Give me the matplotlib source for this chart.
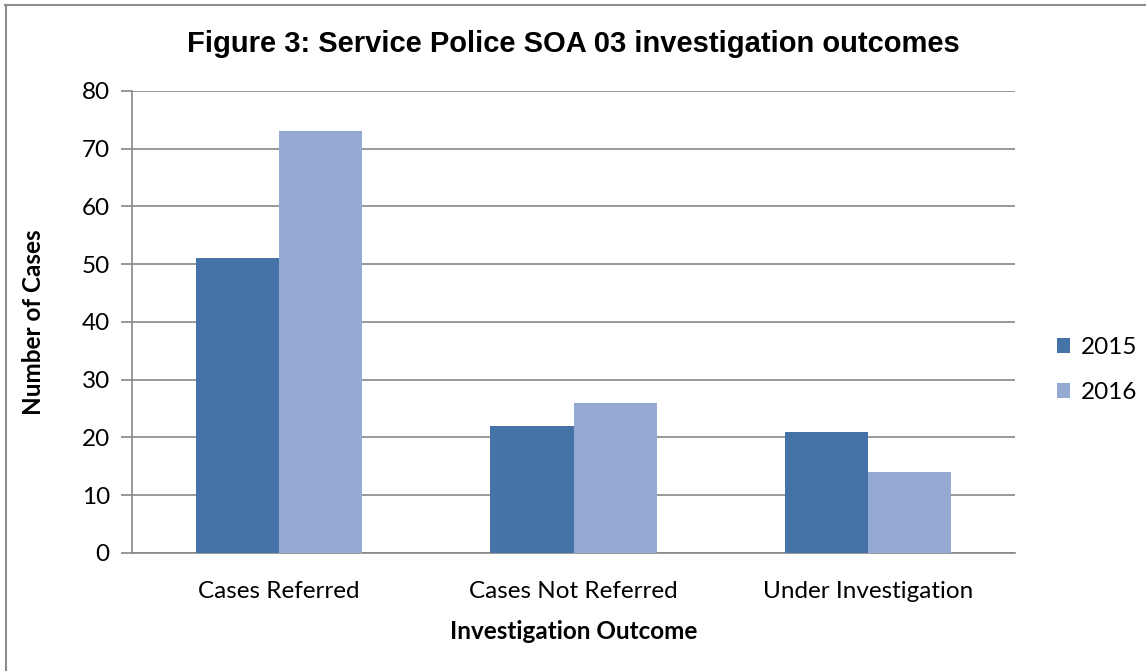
import numpy as np
import matplotlib
matplotlib.use("Agg")
import matplotlib.pyplot as plt
from matplotlib.lines import Line2D

categories = ["Cases Referred", "Cases Not Referred", "Under Investigation"]
years = ["2015", "2016"]
values_2015 = [51, 22, 21]
values_2016 = [73, 26, 14]

col_2015 = "#4572A7"
col_2016 = "#95AAD2"
grid_col = "#878787"
body_font = ["Lato", "DejaVu Sans"]
fs = 17.5

fig = plt.figure(figsize=(11.46, 6.71), dpi=100)
ax = fig.add_axes([0.1152, 0.1759, 0.7705, 0.6885])

x = np.arange(len(categories))
w = 0.283
ax.bar(x - w / 2, values_2015, w, color=col_2015, label=years[0], zorder=3)
ax.bar(x + w / 2, values_2016, w, color=col_2016, label=years[1], zorder=3)

ax.set_xlim(-0.5, 2.5)
ax.set_ylim(0, 80)
ax.set_yticks(np.arange(0, 81, 10))
ax.set_xticks(x)
ax.set_xticklabels(categories, fontsize=fs, family=body_font)
for lab in ax.get_yticklabels():
    lab.set_fontsize(fs)
    lab.set_family(body_font)

ax.yaxis.grid(True, color=grid_col, linewidth=1.2, zorder=0)
for s in ["top", "right"]:
    ax.spines[s].set_visible(False)
ax.spines["left"].set_color(grid_col)
ax.spines["bottom"].set_color(grid_col)
ax.spines["left"].set_linewidth(1.2)
ax.spines["bottom"].set_linewidth(1.2)
ax.tick_params(axis="y", length=8, color=grid_col, width=1.2, pad=8)
ax.tick_params(axis="x", length=0, pad=20)

ax.set_ylabel("Number of Cases", fontsize=fs, fontweight="bold", family=body_font, labelpad=26)
ax.set_xlabel("Investigation Outcome", fontsize=fs, fontweight="bold", family=body_font, labelpad=13)

fig.text(0.5, 0.934, "Figure 3: Service Police SOA 03 investigation outcomes",
         ha="center", va="center", fontsize=21, fontweight="bold", family="Liberation Sans")

ax.legend(loc="center left", bbox_to_anchor=(1.036, 0.396), frameon=False, borderaxespad=0,
          prop={"family": body_font, "size": fs}, handlelength=0.55, handleheight=0.55,
          labelspacing=1.0, handletextpad=0.45)

# outer chart border (top and left visible)
fig.add_artist(Line2D([5 / 1146, 1.0], [1 - 4.5 / 671, 1 - 4.5 / 671], color="#8c8c8c", linewidth=1.5))
fig.add_artist(Line2D([5.5 / 1146, 5.5 / 1146], [0, 1 - 4.5 / 671], color="#8c8c8c", linewidth=1.5))

fig.savefig("out.png", dpi=100)
